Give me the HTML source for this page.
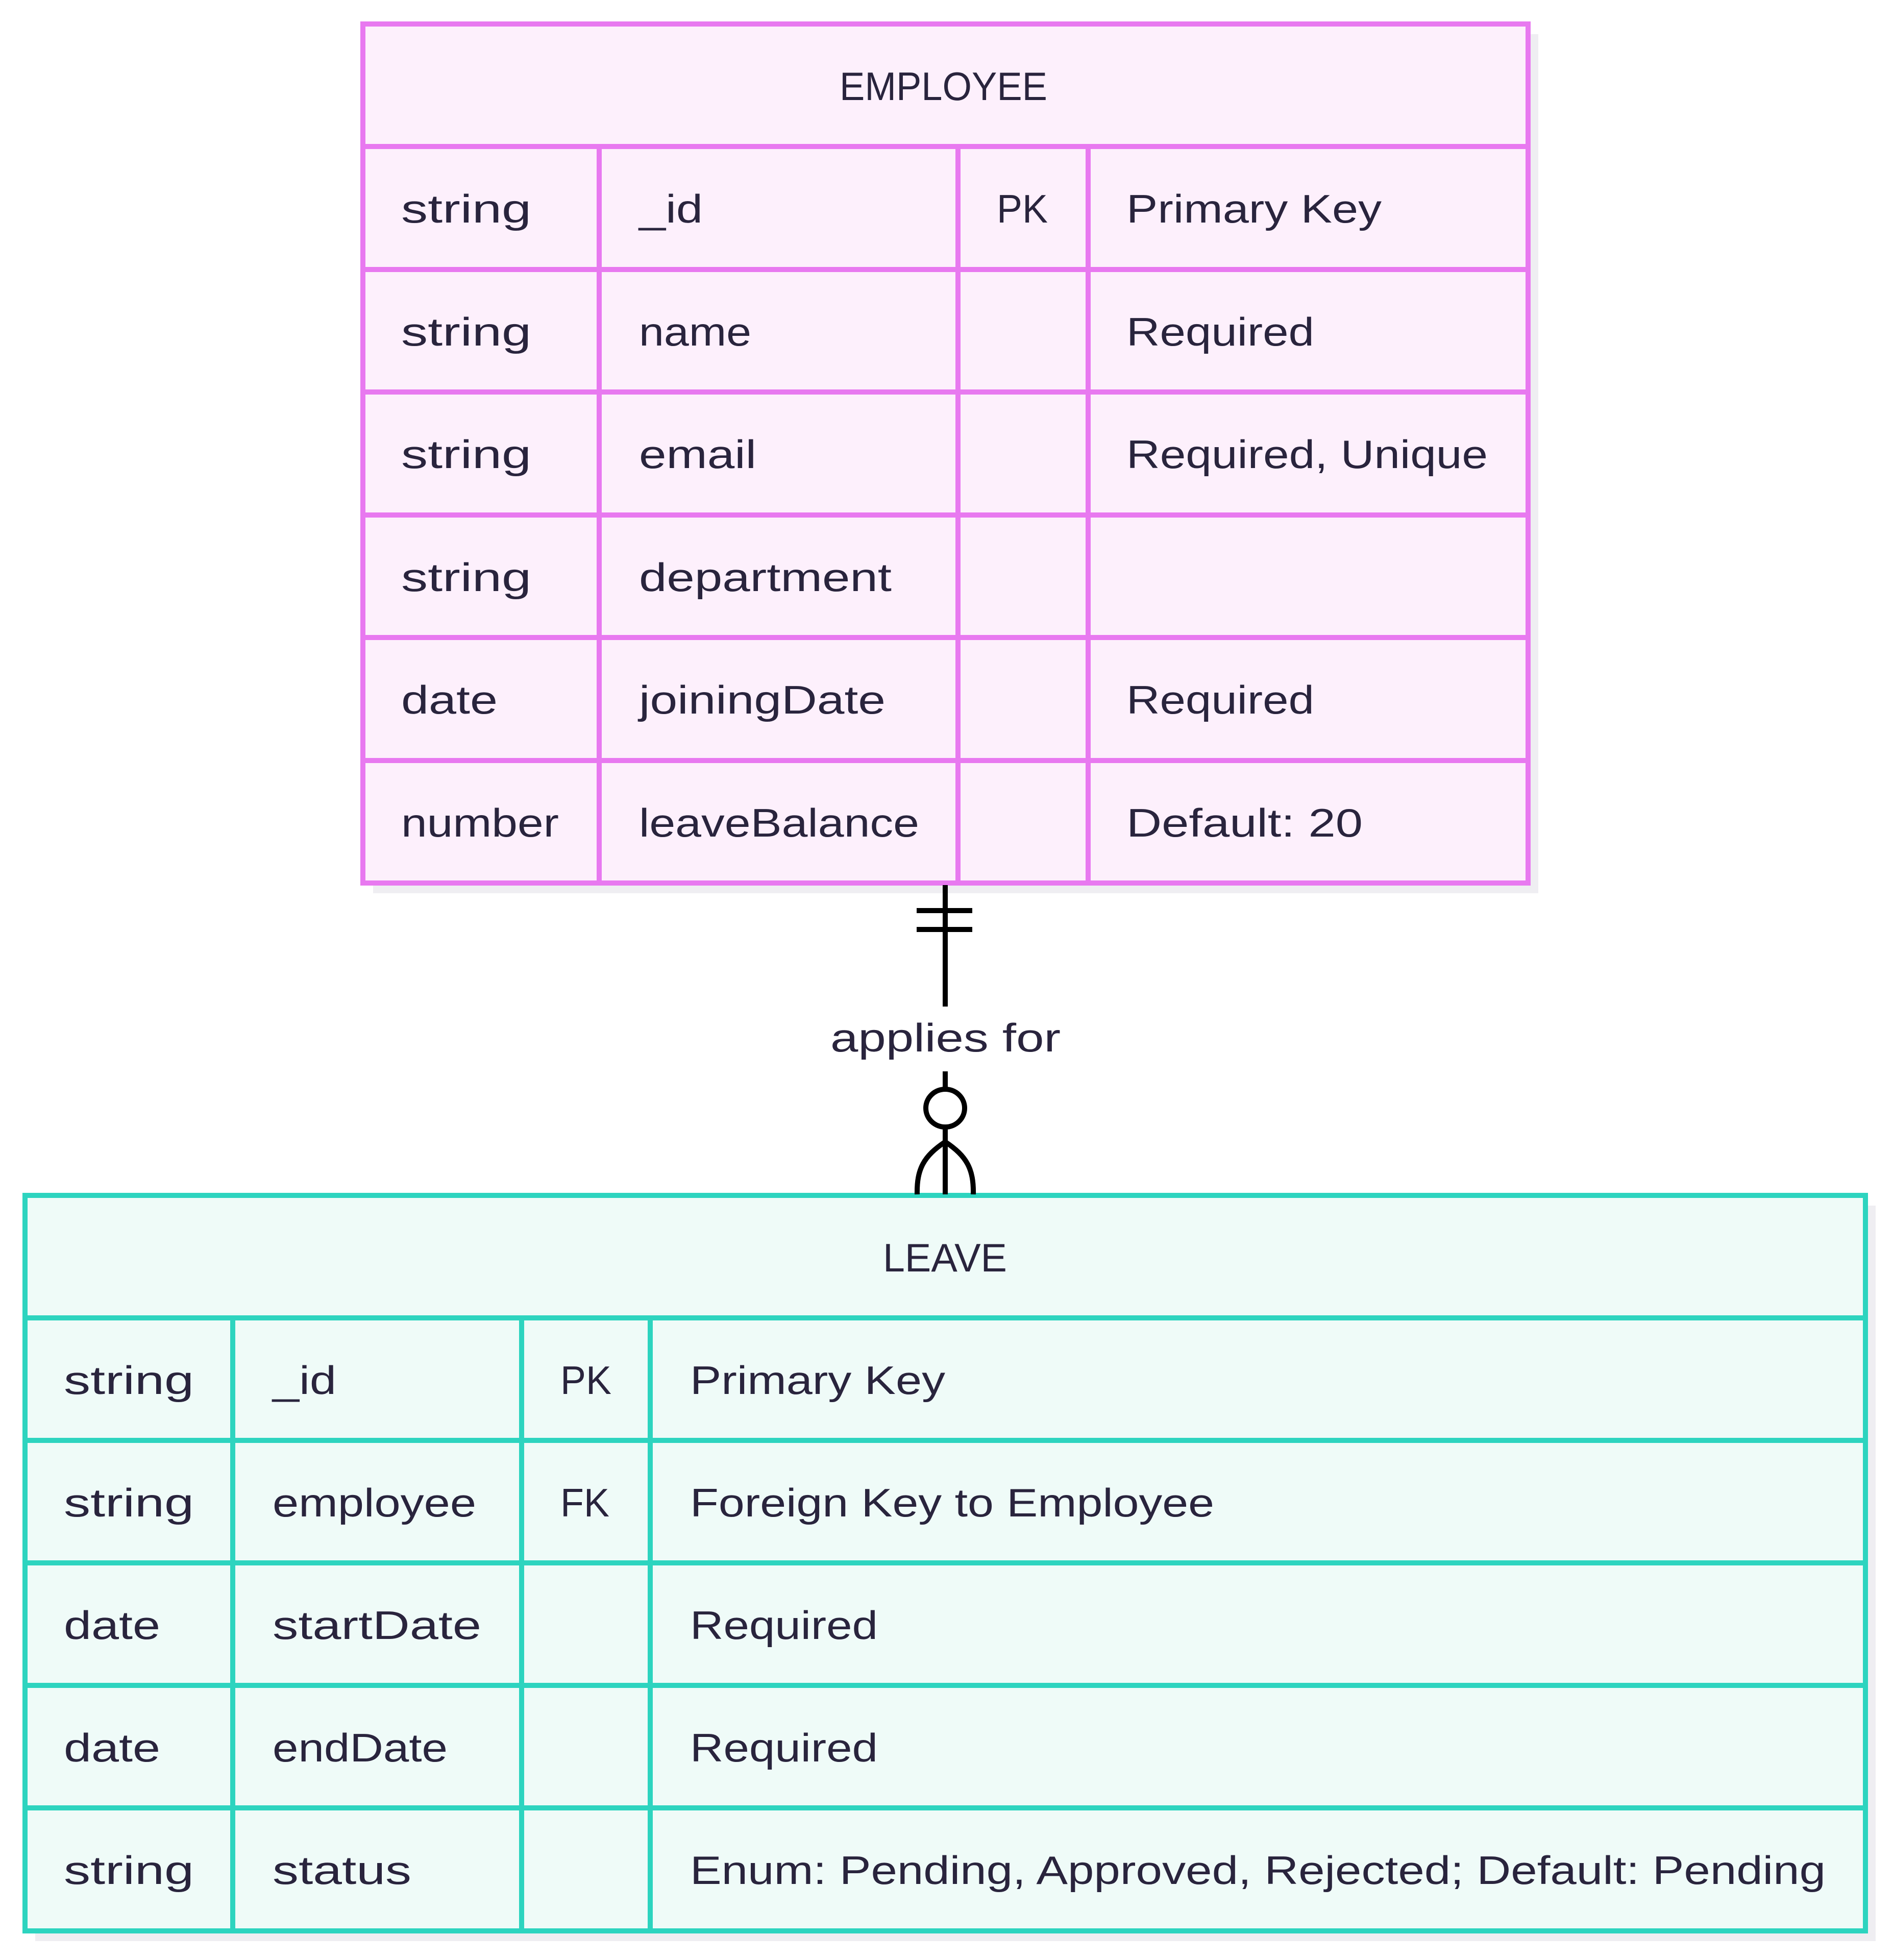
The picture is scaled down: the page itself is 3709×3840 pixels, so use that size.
<!DOCTYPE html>
<html><head><meta charset="utf-8"><style>
html,body{margin:0;padding:0;background:#fff;}
svg{display:block;}
text{font-family:"Liberation Sans","DejaVu Sans",sans-serif;font-size:78px;fill:#29243d;}
</style></head><body>
<svg width="3709" height="3840" viewBox="0 0 3709 3840" xmlns="http://www.w3.org/2000/svg">
<rect x="731" y="67" width="2283" height="1683" fill="#efeef2"/>
<rect x="69" y="2362" width="3606" height="1441" fill="#efeef2"/>

<rect x="711" y="47" width="2283" height="1683" fill="#fdf0fc" stroke="#e879f0" stroke-width="10"/>
<g stroke="#e879f0" stroke-width="10">
<line x1="711" y1="287" x2="2994" y2="287"/>
<line x1="711" y1="528" x2="2994" y2="528"/>
<line x1="711" y1="768" x2="2994" y2="768"/>
<line x1="711" y1="1009" x2="2994" y2="1009"/>
<line x1="711" y1="1249" x2="2994" y2="1249"/>
<line x1="711" y1="1490" x2="2994" y2="1490"/>
<line x1="1174" y1="287" x2="1174" y2="1730"/>
<line x1="1877" y1="287" x2="1877" y2="1730"/>
<line x1="2132" y1="287" x2="2132" y2="1730"/>
</g>
<text x="1645" y="196" textLength="407" lengthAdjust="spacingAndGlyphs">EMPLOYEE</text>
<g>
<text x="786" y="436" textLength="255" lengthAdjust="spacingAndGlyphs">string</text>
<text x="1252" y="436" textLength="125" lengthAdjust="spacingAndGlyphs">_id</text>
<text x="1953" y="436" textLength="100" lengthAdjust="spacingAndGlyphs">PK</text>
<text x="2207" y="436" textLength="500" lengthAdjust="spacingAndGlyphs">Primary Key</text>

<text x="786" y="677" textLength="255" lengthAdjust="spacingAndGlyphs">string</text>
<text x="1252" y="677" textLength="220" lengthAdjust="spacingAndGlyphs">name</text>
<text x="2207" y="677" textLength="368" lengthAdjust="spacingAndGlyphs">Required</text>

<text x="786" y="917" textLength="255" lengthAdjust="spacingAndGlyphs">string</text>
<text x="1252" y="917" textLength="230" lengthAdjust="spacingAndGlyphs">email</text>
<text x="2207" y="917" textLength="708" lengthAdjust="spacingAndGlyphs">Required, Unique</text>

<text x="786" y="1158" textLength="255" lengthAdjust="spacingAndGlyphs">string</text>
<text x="1252" y="1158" textLength="495" lengthAdjust="spacingAndGlyphs">department</text>

<text x="786" y="1398" textLength="189" lengthAdjust="spacingAndGlyphs">date</text>
<text x="1252" y="1398" textLength="483" lengthAdjust="spacingAndGlyphs">joiningDate</text>
<text x="2207" y="1398" textLength="368" lengthAdjust="spacingAndGlyphs">Required</text>

<text x="786" y="1639" textLength="309" lengthAdjust="spacingAndGlyphs">number</text>
<text x="1252" y="1639" textLength="549" lengthAdjust="spacingAndGlyphs">leaveBalance</text>
<text x="2207" y="1639" textLength="463" lengthAdjust="spacingAndGlyphs">Default: 20</text>
</g>

<rect x="49" y="2342" width="3606" height="1441" fill="#effbf8" stroke="#2dd4bf" stroke-width="10"/>
<g stroke="#2dd4bf" stroke-width="10">
<line x1="49" y1="2582" x2="3655" y2="2582"/>
<line x1="49" y1="2822" x2="3655" y2="2822"/>
<line x1="49" y1="3062" x2="3655" y2="3062"/>
<line x1="49" y1="3302" x2="3655" y2="3302"/>
<line x1="49" y1="3542" x2="3655" y2="3542"/>
<line x1="456" y1="2582" x2="456" y2="3783"/>
<line x1="1022" y1="2582" x2="1022" y2="3783"/>
<line x1="1274" y1="2582" x2="1274" y2="3783"/>
</g>
<text x="1730" y="2491" textLength="243" lengthAdjust="spacingAndGlyphs">LEAVE</text>
<g>
<text x="125" y="2731" textLength="255" lengthAdjust="spacingAndGlyphs">string</text>
<text x="534" y="2731" textLength="125" lengthAdjust="spacingAndGlyphs">_id</text>
<text x="1098" y="2731" textLength="100" lengthAdjust="spacingAndGlyphs">PK</text>
<text x="1352" y="2731" textLength="500" lengthAdjust="spacingAndGlyphs">Primary Key</text>

<text x="125" y="2971" textLength="255" lengthAdjust="spacingAndGlyphs">string</text>
<text x="534" y="2971" textLength="399" lengthAdjust="spacingAndGlyphs">employee</text>
<text x="1098" y="2971" textLength="96" lengthAdjust="spacingAndGlyphs">FK</text>
<text x="1352" y="2971" textLength="1027" lengthAdjust="spacingAndGlyphs">Foreign Key to Employee</text>

<text x="125" y="3211" textLength="189" lengthAdjust="spacingAndGlyphs">date</text>
<text x="534" y="3211" textLength="409" lengthAdjust="spacingAndGlyphs">startDate</text>
<text x="1352" y="3211" textLength="368" lengthAdjust="spacingAndGlyphs">Required</text>

<text x="125" y="3451" textLength="189" lengthAdjust="spacingAndGlyphs">date</text>
<text x="534" y="3451" textLength="343" lengthAdjust="spacingAndGlyphs">endDate</text>
<text x="1352" y="3451" textLength="368" lengthAdjust="spacingAndGlyphs">Required</text>

<text x="125" y="3691" textLength="255" lengthAdjust="spacingAndGlyphs">string</text>
<text x="534" y="3691" textLength="272" lengthAdjust="spacingAndGlyphs">status</text>
<text x="1352" y="3691" textLength="2225" lengthAdjust="spacingAndGlyphs">Enum: Pending, Approved, Rejected; Default: Pending</text>
</g>

<g stroke="#000" stroke-width="10" fill="none">
<line x1="1852" y1="1734" x2="1852" y2="1972"/>
<line x1="1796" y1="1784" x2="1905" y2="1784"/>
<line x1="1796" y1="1821" x2="1905" y2="1821"/>
<line x1="1852" y1="2099" x2="1852" y2="2133"/>
<ellipse cx="1852" cy="2171" rx="38" ry="37"/>
<line x1="1852" y1="2208" x2="1852" y2="2340"/>
<path d="M1852 2237 C1810 2265 1796 2290 1797 2340"/>
<path d="M1852 2237 C1894 2265 1908 2290 1907 2340"/>
</g>
<text x="1627" y="2060" textLength="451" lengthAdjust="spacingAndGlyphs">applies for</text>
</svg>
</body></html>
